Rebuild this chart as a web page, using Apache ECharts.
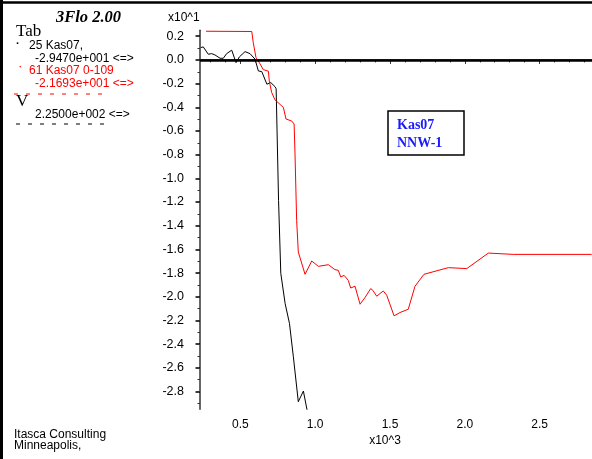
<!DOCTYPE html>
<html>
<head>
<meta charset="utf-8">
<script src="https://cdn.jsdelivr.net/npm/echarts@6/dist/echarts.min.js"></script>
<style>html,body{margin:0;padding:0;background:#fff;}#c{width:592px;height:459px;}</style>
</head>
<body>
<div id="c"></div>
<script>
// x in units of 10^3, y in units of 10^1
const blackSeries = [
  [0.235,0.104],[0.252,0.11],[0.285,0.048],[0.308,0.053],[0.33,0.042],[0.364,0.014],
  [0.386,0.014],[0.408,0.053],[0.442,0.082],[0.471,-0.023],[0.493,0.025],[0.531,0.07],
  [0.564,0.053],[0.598,0.006],[0.62,-0.093],[0.643,-0.099],[0.654,-0.107],[0.677,-0.205],
  [0.703,-0.191],[0.732,-0.227],[0.739,-0.244],[0.755,-1.187],[0.77,-1.802],[0.799,-2.057],
  [0.828,-2.225],[0.854,-2.507],[0.887,-2.886],[0.921,-2.796],[0.96,-3.05]
];
const redSeries = [
  [0.27,0.242],[0.576,0.24],[0.586,0.146],[0.604,0.021],[0.631,-0.033],[0.653,-0.082],
  [0.687,-0.095],[0.693,-0.177],[0.709,-0.275],[0.731,-0.337],[0.753,-0.362],[0.787,-0.401],
  [0.805,-0.499],[0.843,-0.516],[0.859,-0.541],[0.865,-0.794],[0.876,-1.355],[0.887,-1.622],
  [0.932,-1.81],[0.977,-1.698],[1.021,-1.743],[1.088,-1.729],[1.132,-1.771],[1.154,-1.776],
  [1.171,-1.833],[1.193,-1.819],[1.221,-1.861],[1.237,-1.926],[1.266,-1.911],[1.277,-1.917],
  [1.3,-2.063],[1.333,-2.006],[1.371,-1.931],[1.385,-1.945],[1.411,-1.995],[1.455,-1.951],
  [1.478,-1.987],[1.527,-2.161],[1.567,-2.133],[1.622,-2.105],[1.667,-1.911],[1.727,-1.81],
  [1.89,-1.754],[2.013,-1.762],[2.157,-1.631],[2.324,-1.642],[2.848,-1.642]
];
const yTickLabels = [0.2,0.0,-0.2,-0.4,-0.6,-0.8,-1.0,-1.2,-1.4,-1.6,-1.8,-2.0,-2.2,-2.4,-2.6,-2.8];
const yMinorTicks = [0.2,0.1,0.0,-0.1,-0.2,-0.3,-0.4,-0.5,-0.6,-0.7,-0.8,-0.9,-1.0,-1.1,-1.2,-1.3,-1.4,-1.5,-1.6,-1.7,-1.8,-1.9,-2.0,-2.1,-2.2,-2.3,-2.4,-2.5,-2.6,-2.7,-2.8,-2.9];
const xTickLabels = [0.5,1.0,1.5,2.0,2.5];
const xMinorTicks = [0.3,0.4,0.5,0.6,0.7,0.8,0.9,1.0,1.1,1.2,1.3,1.4,1.5,1.6,1.7,1.8,1.9,2.0,2.1,2.2,2.3,2.4,2.5,2.6,2.7,2.8];
const legendLines = [
  {text:'25 Kas07,', color:'#000'},
  {text:'-2.9470e+001 <=>', color:'#000'},
  {text:'61 Kas07 0-109', color:'#ff0000'},
  {text:'-2.1693e+001 <=>', color:'#ff0000'},
  {text:'2.2500e+002 <=>', color:'#000'}
];

const FONT = '"Liberation Sans", Arial, sans-serif';
const SERIF = '"Liberation Serif", "Times New Roman", serif';
const XMIN = 0.23, XMAX = 2.85, YMIN = -2.95, YMAX = 0.25;

const chart = echarts.init(document.getElementById('c'), null, {renderer:'canvas'});
const fmt = v => Number(v).toFixed(1);

const txt = (x, y, s, opt, z) => ({type:'text', x:x, y:y, z:(z||5), silent:true, style:Object.assign({text:s, fill:'#000', font:'12px ' + FONT, textVerticalAlign:'middle'}, opt||{})});

chart.setOption({
  animation:false,
  backgroundColor:'#fff',
  grid:{left:200, top:30.3, right:0, bottom:49.7, containLabel:false},
  xAxis:[
    {type:'value', min:XMIN, max:XMAX, position:'bottom',
     axisLine:{show:true, lineStyle:{color:'#444', width:2}},
     axisTick:{show:true, length:4, inside:false, customValues:xTickLabels, lineStyle:{color:'#333', width:1}},
     axisLabel:{show:true, margin:9, customValues:xTickLabels, formatter:fmt, color:'#000', fontSize:12, fontFamily:FONT},
     splitLine:{show:false}},
    {type:'value', min:XMIN, max:XMAX, position:'bottom',
     axisLine:{show:false},
     axisTick:{show:true, length:2.5, customValues:xMinorTicks, lineStyle:{color:'#333', width:1}},
     axisLabel:{show:false}, splitLine:{show:false}}
  ],
  yAxis:[
    {type:'value', min:YMIN, max:YMAX, position:'left',
     axisLine:{show:true, lineStyle:{color:'#333', width:1.5}},
     axisTick:{show:true, length:4.5, customValues:yTickLabels, lineStyle:{color:'#000', width:1.5}},
     axisLabel:{show:true, margin:16, customValues:yTickLabels, formatter:fmt, color:'#000', fontSize:12.5, fontFamily:FONT},
     splitLine:{show:false}},
    {type:'value', min:YMIN, max:YMAX, position:'left',
     axisLine:{show:false},
     axisTick:{show:true, length:2.5, customValues:yMinorTicks, lineStyle:{color:'#333', width:1}},
     axisLabel:{show:false}, splitLine:{show:false}}
  ],
  series:[
    {type:'line', data:blackSeries, xAxisIndex:0, yAxisIndex:0, showSymbol:false, symbol:'none', clip:true,
     lineStyle:{color:'#000', width:1}, z:3,
     markLine:{silent:true, symbol:'none', label:{show:false}, lineStyle:{color:'#000', width:2.5, type:'solid'},
       data:[{yAxis:0}]}},
    {type:'line', data:redSeries, xAxisIndex:0, yAxisIndex:0, showSymbol:false, symbol:'none', clip:true,
     lineStyle:{color:'#ff0000', width:1}, z:4}
  ],
  graphic:[
    {type:'line', silent:true, shape:{x1:0, y1:2.5, x2:592, y2:2.5}, style:{stroke:'#000', lineWidth:2.5}},
    {type:'line', silent:true, shape:{x1:1.5, y1:0, x2:1.5, y2:459}, style:{stroke:'#000', lineWidth:3}},
    txt(56, 18, '3Flo 2.00', {font:'italic bold 16.5px ' + SERIF}),
    txt(16, 32, 'Tab', {font:'17px ' + SERIF}),
    txt(16, 44, '·', {font:'bold 11px ' + FONT}),
    txt(29, 46, legendLines[0].text, {fill:legendLines[0].color}),
    txt(35, 59, legendLines[1].text, {fill:legendLines[1].color}),
    txt(19, 68, '·', {font:'bold 9px ' + FONT, fill:'#ff0000'}),
    txt(29, 71, legendLines[2].text, {fill:legendLines[2].color}),
    txt(35, 84, legendLines[3].text, {fill:legendLines[3].color}),
    {type:'line', silent:true, shape:{x1:14, y1:94, x2:110, y2:94}, style:{stroke:'#ff0000', lineWidth:1, lineDash:[4,8]}},
    txt(16, 102, 'V', {font:'17px ' + SERIF}),
    txt(35, 115, legendLines[4].text, {fill:legendLines[4].color}),
    {type:'line', silent:true, shape:{x1:16, y1:124, x2:112, y2:124}, style:{stroke:'#000', lineWidth:1, lineDash:[4,8]}},
    txt(168, 18, 'x10^1', {font:'12px ' + FONT}),
    txt(385, 441, 'x10^3', {font:'12px ' + FONT, textAlign:'center'}),
    txt(14, 435, 'Itasca Consulting'),
    txt(14, 446, 'Minneapolis,'),
    {type:'rect', silent:true, z:10, shape:{x:388, y:111, width:76, height:44}, style:{fill:'#fff', stroke:'#000', lineWidth:1.5}},
    txt(397, 125, 'Kas07', {font:'bold 14px ' + SERIF, fill:'#1a1aff'}, 20),
    txt(397, 143, 'NNW-1', {font:'bold 14px ' + SERIF, fill:'#1a1aff'}, 20)
  ]
});
</script>
</body>
</html>
